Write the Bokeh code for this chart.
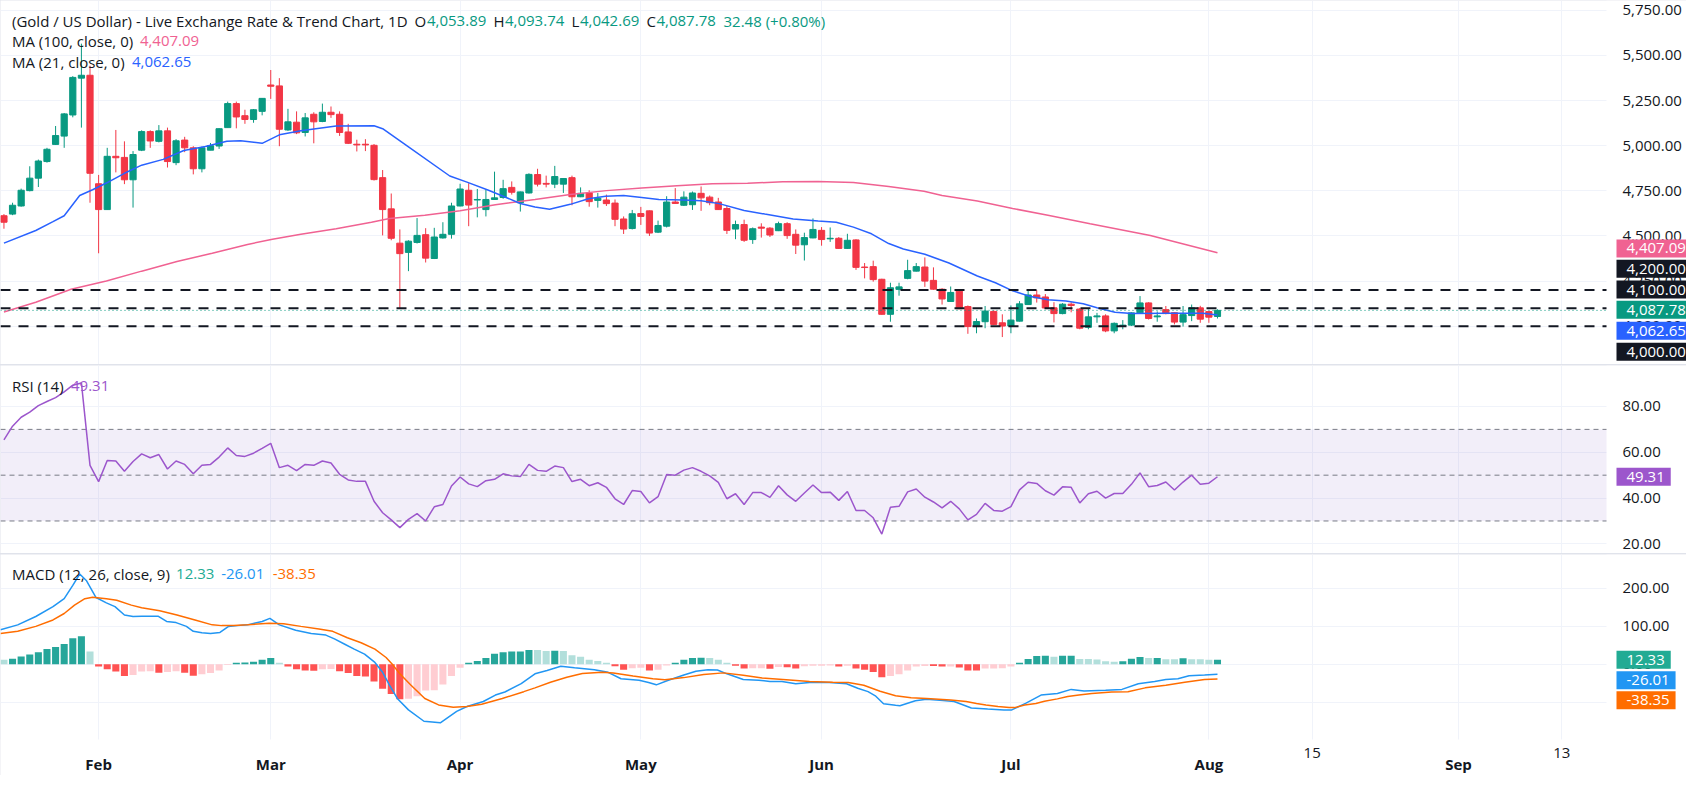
from bokeh.plotting import figure
from bokeh.layouts import column
from bokeh.models import (ColumnDataSource, BoxAnnotation, Label, FixedTicker,
                          NumeralTickFormatter, Range1d, LinearAxis)
from bokeh.embed import file_html
from bokeh.resources import INLINE

# ---------------- data ----------------
opens = [4612, 4621, 4666, 4751, 4820, 4912, 5007, 5053, 5170, 5374,
         5390, 4789, 4646, 4941, 4935, 4811, 4975, 5078, 5024, 5082,
         4906, 5031, 4988, 4872, 4975, 4998, 5100, 5233, 5166, 5145,
         5190, 5336, 5331, 5087, 5130, 5073, 5174, 5134, 5185, 5174,
         5076, 5008, 5008, 5002, 4823, 4650, 4460, 4409, 4464, 4507,
         4375, 4489, 4509, 4666, 4753, 4699, 4646, 4702, 4713, 4769,
         4684, 4738, 4840, 4791, 4787, 4787, 4823, 4717, 4738, 4697,
         4699, 4682, 4594, 4541, 4624, 4639, 4521, 4554, 4688, 4670,
         4673, 4736, 4715, 4688, 4652, 4538, 4563, 4480, 4549, 4543,
         4529, 4568, 4509, 4451, 4489, 4531, 4484, 4487, 4431, 4478,
         4328, 4330, 4260, 4066, 4204, 4265, 4305, 4328, 4254, 4205,
         4137, 4194, 4109, 3998, 4025, 4082, 4019, 4001, 4028, 4120,
         4173, 4162, 4102, 4070, 4122, 4095, 3994, 4052, 4057, 3974,
         4001, 4006, 4074, 4129, 4052, 4092, 4075, 4023, 4059, 4102,
         4081, 4053.89]
highs = [4621, 4684, 4762, 4886, 4923, 4988, 5109, 5181, 5385, 5565,
         5443, 4838, 4988, 5087, 5024, 4970, 5085, 5085, 5114, 5100,
         5036, 5049, 4997, 4995, 5015, 5096, 5244, 5244, 5199, 5203,
         5264, 5419, 5374, 5204, 5190, 5181, 5185, 5233, 5217, 5190,
         5121, 5033, 5036, 5009, 4865, 4735, 4536, 4476, 4599, 4543,
         4545, 4576, 4684, 4789, 4792, 4760, 4756, 4856, 4811, 4802,
         4746, 4847, 4872, 4834, 4888, 4820, 4834, 4769, 4753, 4738,
         4729, 4702, 4608, 4644, 4661, 4641, 4585, 4720, 4765, 4747,
         4746, 4774, 4724, 4711, 4666, 4585, 4590, 4547, 4570, 4549,
         4579, 4576, 4536, 4518, 4597, 4549, 4547, 4494, 4512, 4482,
         4350, 4363, 4263, 4241, 4241, 4368, 4350, 4381, 4326, 4211,
         4220, 4200, 4115, 4043, 4112, 4088, 4066, 4115, 4139, 4196,
         4200, 4178, 4133, 4128, 4133, 4101, 4097, 4074, 4066, 4021,
         4034, 4077, 4167, 4133, 4082, 4112, 4077, 4112, 4120, 4113,
         4084, 4093.74]
lows = [4540, 4615, 4662, 4747, 4771, 4906, 5004, 4988, 5157, 5100,
        4684, 4404, 4646, 4852, 4787, 4657, 4970, 4988, 5018, 4879,
        4892, 4964, 4841, 4852, 4975, 4982, 5100, 5096, 5121, 5127,
        5168, 5259, 4997, 5082, 5064, 5051, 5013, 5130, 5154, 5054,
        5009, 4968, 4970, 4807, 4503, 4476, 4097, 4305, 4458, 4353,
        4372, 4485, 4485, 4664, 4554, 4603, 4608, 4699, 4706, 4729,
        4635, 4735, 4774, 4769, 4765, 4738, 4670, 4715, 4662, 4657,
        4666, 4554, 4511, 4536, 4561, 4500, 4516, 4547, 4679, 4666,
        4644, 4639, 4670, 4644, 4511, 4482, 4467, 4456, 4491, 4494,
        4527, 4484, 4400, 4364, 4487, 4446, 4467, 4428, 4428, 4312,
        4265, 4247, 4064, 4025, 4169, 4260, 4303, 4218, 4202, 4120,
        4135, 4095, 3958, 3961, 3989, 4006, 3940, 3961, 4026, 4119,
        4131, 4095, 4021, 4066, 4077, 3983, 3983, 4019, 3967, 3961,
        3983, 4001, 4070, 4037, 4025, 4066, 4010, 3998, 4028, 4019,
        4019, 4042.69]
closes = [4576, 4670, 4753, 4820, 4915, 4980, 5056, 5176, 5378, 5390,
          4847, 4646, 4941, 4933, 4811, 4951, 5078, 5026, 5082, 4912,
          5027, 4988, 4872, 4988, 5000, 5094, 5233, 5159, 5145, 5199,
          5262, 5329, 5091, 5132, 5071, 5154, 5132, 5185, 5172, 5073,
          5013, 5004, 5004, 4812, 4646, 4487, 4402, 4471, 4503, 4377,
          4494, 4509, 4666, 4760, 4671, 4702, 4702, 4711, 4762, 4742,
          4744, 4841, 4787, 4787, 4829, 4818, 4717, 4736, 4690, 4709,
          4679, 4592, 4538, 4623, 4608, 4516, 4558, 4688, 4680, 4715,
          4738, 4711, 4684, 4646, 4531, 4563, 4476, 4540, 4543, 4505,
          4568, 4502, 4449, 4491, 4536, 4480, 4487, 4431, 4476, 4326,
          4325, 4258, 4066, 4213, 4218, 4308, 4330, 4250, 4205, 4151,
          4187, 4097, 3998, 4026, 4084, 4010, 4001, 4034, 4124, 4173,
          4157, 4101, 4070, 4122, 4115, 3989, 4052, 4057, 3974, 4016,
          4006, 4074, 4129, 4043, 4057, 4070, 4023, 4064, 4102, 4039,
          4050, 4087.78]

ma21_x = [0, 3.7, 5.7, 7, 8.8, 10.3, 11.9, 14, 16, 18.5, 20.9, 23.4, 25.9, 27.5, 30,
          32, 34.5, 38.6, 43, 44, 46.8, 51.8, 53.8, 56.3, 58, 60, 61.7, 63.4, 65.8,
          67.9, 69.9, 72, 74.1, 76.1, 79, 81, 83.1, 86, 88.4, 91.7, 94.6, 96.7, 98.7,
          100.8, 102.8, 104.5, 107, 109.8, 113.1, 115.2, 117.2, 119.3, 121.3, 123.4,
          125.4, 127, 129.1, 131.1, 135.2, 139.3, 141]
ma21_y = [4460, 4530, 4579, 4612, 4724, 4756, 4793, 4847, 4892, 4924, 4973, 4995, 5024, 5027, 5013,
          5060, 5082, 5109, 5110, 5094, 5000, 4832, 4798, 4753, 4720, 4680, 4660, 4648, 4675,
          4706, 4720, 4724, 4713, 4702, 4699, 4695, 4679, 4641, 4621, 4594, 4583, 4576, 4549,
          4512, 4458, 4428, 4399, 4350, 4278, 4241, 4196, 4164, 4146, 4140,
          4124, 4102, 4077, 4070, 4072, 4072, 4062.65]

ma100_x = [0, 3.7, 7.8, 11.9, 16, 20.1, 24.2, 28.3, 31.2, 34.5, 38.6, 42.7, 44.8, 48.9,
           53, 57.1, 61.7, 65.8, 70, 74.1, 78.2, 82.3, 86.4, 90.5, 94.6, 98.7, 102.8,
           106.9, 109, 113.1, 117.2, 121.3, 126.2, 133.2, 141]
ma100_y = [4079, 4133, 4205, 4250, 4305, 4359, 4404, 4453, 4482, 4509, 4540, 4576, 4597, 4615,
           4639, 4673, 4702, 4729, 4751, 4765, 4778, 4789, 4792, 4800, 4802, 4796, 4774,
           4747, 4724, 4693, 4652, 4615, 4567, 4503, 4407.09]

rsi = [65.4, 71.4, 75.3, 77.5, 80.4, 82.2, 83.9, 86.4, 89.3, 90.3,
       54.3, 47.2, 56.4, 56.2, 51.7, 56.0, 59.3, 57.6, 59.0, 52.7,
       56.2, 54.7, 50.6, 54.3, 54.7, 57.9, 61.9, 58.6, 58.2, 59.6,
       61.7, 63.9, 53.3, 54.3, 52.0, 54.7, 54.3, 56.2, 55.3, 50.4,
       47.9, 47.3, 47.3, 38.6, 33.6, 30.5, 27.1, 30.7, 33.2, 30.0,
       36.2, 37.2, 45.3, 49.2, 46.2, 45.0, 47.6, 48.2, 50.6, 49.7,
       49.4, 54.7, 52.1, 51.7, 54.0, 53.3, 47.2, 48.2, 45.4, 46.7,
       44.7, 39.7, 37.2, 43.3, 42.9, 37.9, 40.6, 50.3, 50.0, 52.2,
       53.3, 51.7, 49.7, 46.9, 39.7, 41.9, 37.2, 42.4, 42.4, 40.3,
       45.4, 41.4, 38.6, 42.2, 45.7, 42.4, 42.6, 39.0, 42.9, 34.6,
       34.6, 31.4, 24.3, 36.0, 36.4, 42.7, 44.0, 40.4, 38.3, 35.7,
       38.6, 35.3, 30.5, 32.9, 37.7, 34.6, 34.3, 36.3, 43.6, 46.9,
       46.4, 43.2, 41.3, 44.9, 44.7, 37.9, 41.9, 43.0, 40.0, 42.0,
       42.0, 46.0, 51.0, 45.0, 45.5, 47.0, 43.5, 47.0, 50.0, 46.0,
       46.5, 49.31]

hist = [12, 14.6, 20.7, 25.9, 31.9, 40.4, 45.6, 53.5, 68.9, 74.1,
        33.5, -6, -13, -19, -31, -28.4, -19, -18.5, -22, -20,
        -18, -22, -30, -26, -23, -16, -2, 4, 5, 7,
        12, 17, 4, -6, -13, -16, -17, -13, -12, -18,
        -23, -31, -32, -45, -64, -78, -92, -91, -84, -69,
        -68, -53, -31, -9, 4, 8.5, 17, 28, 32, 33.6,
        34, 38, 37.5, 35.4, 36, 35.4, 24, 20, 12, 8.5,
        4.2, -5, -14, -10, -9, -16, -14, -3, 4, 12,
        17, 17.5, 17, 12, 4, -3.4, -11, -10.5, -10, -11.5,
        -7, -7.5, -11, -5, -3.5, -3.4, -3.3, -6, -3.4, -11,
        -14, -20, -34, -31, -26, -16, -6, -4.3, -4.5, -6,
        -5.8, -8.6, -16, -16.5, -11, -10.8, -10.6, -6, 4, 14,
        22, 22.5, 20, 22.4, 22.6, 14, 13.9, 13, 8, 6.5,
        8, 15, 19, 16.5, 16.8, 13.7, 13.6, 16, 13.7, 13.6,
        12, 12.33]

macd_x = [-0.4, 1.6, 3.7, 5.7, 7, 8, 8.8, 9.6, 10.7, 11.9, 12.9, 14, 15, 16, 17.9, 18.9,
          20, 21.2, 22, 23, 24, 25.1, 26.1, 27.1, 28.3, 30, 30.9, 32, 33.9, 35.7, 37.4,
          38.4, 39.6, 40.7, 41.9, 43.1, 44, 44.8, 45.7, 47, 48.8, 50.7, 52.6, 53.8, 55.7,
          57.1, 58.2, 60.1, 61.7, 63.1, 64.7, 66.3, 68.6, 70.2, 71.7, 73.8, 74.9, 75.8,
          77.2, 79, 80.4, 81.8, 82.9, 84, 85.9, 87.7, 89, 90.4, 92, 93.6, 95.9, 97.9,
          99.2, 100.4, 101.3, 102.2, 103.6, 104.1, 105.9, 107.2, 109.1, 110.4, 112.4,
          114.3, 116.2, 117.1, 118.7, 120.5, 122.4, 124, 125.5, 128, 129.9, 131.8,
          133.7, 135, 136.4, 137.7, 139.5, 141]
macd_y = [91, 104, 126, 152, 173, 208, 238, 220, 176, 162, 152, 130, 126, 127, 127, 113,
          110, 100, 87, 83, 81, 84, 100, 102, 104, 113, 121, 104, 90, 81, 77,
          67, 53, 40, 27, 5, -21, -55, -90, -120, -150, -154, -124, -111, -98,
          -81, -73, -51, -25, -16, -5, -9, -14, -21, -38, -42, -48, -54,
          -42, -28, -18, -14, -15, -25, -40, -42, -45, -45, -51, -48, -48, -51,
          -63, -72, -84, -104, -108, -109, -96, -92, -95, -98, -115,
          -118, -120, -120, -103, -81, -77, -66, -70, -68, -66, -51,
          -45, -40, -38, -30, -28, -26.01]

signal_x = [-0.4, 1.6, 3.7, 5.7, 7, 8.2, 9.4, 10.3, 11.9, 13.1, 14.8, 16, 18.1, 20.1,
            22.2, 24.2, 25.3, 26.7, 28.3, 30.8, 32.5, 34.5, 36.6, 38.2, 39.9, 41.5,
            43.1, 44.4, 45.2, 46, 47.3, 48.9, 50.5, 52.2, 53.8, 55.5, 57.9, 60.4,
            61.7, 63.5, 65.4, 67.2, 69.5, 70.8, 73.1, 75.4, 76.8, 79, 81.3, 83.6,
            85.9, 88.1, 90.9, 93.6, 96.3, 98.1, 99.9, 101.8, 103.6, 105.4, 107.2,
            110, 111.8, 113, 114.1, 115.5, 116.8, 117.4, 118.6, 119.9, 120.9, 122.4,
            123.6, 124.9, 126.4, 128.7, 130.6, 132.6, 135, 137.2, 139.5, 141]
signal_y = [81, 87, 100, 117, 134, 156, 173, 177, 173, 169, 156, 149, 141, 130,
            117, 104, 102, 102, 104, 108.5, 107, 100, 93, 87, 70, 57,
            40, 18, -2, -25, -55, -90, -107, -113, -111, -105, -90, -72,
            -62, -47, -34, -24, -21, -23, -31, -38, -40.5, -35, -27, -22.5,
            -29, -36, -40.5, -45, -47, -48, -55, -71, -83, -88, -90,
            -94, -98, -103, -107, -111, -114, -114, -107, -103, -97, -91,
            -85, -81, -77, -73, -72, -62, -55, -47, -40, -38.35]

levels = [4200, 4100, 4000]
last_price = 4087.78
month_ticks = [11, 31, 53, 74, 95, 117, 140, 169]
month_labels = ["Feb", "Mar", "Apr", "May", "Jun", "Jul", "Aug", "Sep"]
day_ticks = [152, 181]
day_labels = ["15", "13"]
price_ticks = [4000, 4250, 4500, 4750, 5000, 5250, 5500, 5750]
rsi_ticks = [20, 40, 60, 80]
macd_ticks = [-100, 0, 100, 200]

# ---------------- styling / layout ----------------
FONT = "Open Sans"
FS = "15px"
TXT = "#131722"
UP, DOWN = "#089981", "#F23645"
GRID = "#F0F3FA"
W = 1686                 # full canvas width (frame covers the price-scale area too)
PXB = 1606 / 186.6       # pixels per bar
X0 = -0.4
XEDGE = 186.2            # right edge of the chart area (price scale starts here)
xr = Range1d(X0, X0 + W / PXB)


def base(height, yr, ticks, fmt):
    p = figure(frame_width=W, frame_height=height, x_range=xr, y_range=yr,
               toolbar_location=None, output_backend="svg",
               x_axis_location=None, y_axis_location=None,
               min_border=0, outline_line_color=None,
               background_fill_color="white", border_fill_color="white")
    p.ygrid.ticker = FixedTicker(ticks=ticks)
    p.ygrid.grid_line_color = GRID
    p.xgrid.ticker = FixedTicker(ticks=month_ticks + day_ticks)
    p.xgrid.grid_line_color = GRID
    # blank the price-scale strip (grid lines stop at the chart edge)
    p.add_layout(BoxAnnotation(left=XEDGE, fill_color="white", fill_alpha=1,
                               line_color=None, level="underlay"))
    ax = LinearAxis(fixed_location=XEDGE, ticker=FixedTicker(ticks=ticks),
                    formatter=NumeralTickFormatter(format=fmt),
                    axis_line_color=None, major_tick_line_color=None,
                    minor_tick_line_color=None, major_label_standoff=10,
                    major_label_text_font=FONT, major_label_text_font_size=FS,
                    major_label_text_color=TXT)
    p.add_layout(ax, "right")
    return p


def txt(p, px, y, text, color=TXT):
    p.add_layout(Label(x=X0, x_offset=px, y=y, text=text, text_color=color,
                       text_font=FONT, text_font_size=FS, text_baseline="middle",
                       text_align="left"))


def badge(p, y, text, color):
    p.add_layout(Label(x=XEDGE, y=y, x_offset=10, text=text, text_color="white",
                       text_font=FONT, text_font_size=FS, text_baseline="middle",
                       text_align="left", background_fill_color=color,
                       background_fill_alpha=1.0,
                       padding=dict(left=10, right=6, top=4, bottom=4)))


def hline(p, y, color, width, dash):
    p.segment(x0=X0, x1=XEDGE, y0=y, y1=y, line_color=color, line_width=width,
              line_dash=dash)


idx = list(range(len(closes)))

# ---------------- price panel ----------------
p1 = base(364, Range1d(3788, 5804), price_ticks, "0,0.00")
colors = [UP if c >= o else DOWN for o, c in zip(opens, closes)]
src = ColumnDataSource(dict(x=idx, high=highs, low=lows,
                            top=[max(o, c) for o, c in zip(opens, closes)],
                            bottom=[min(o, c) for o, c in zip(opens, closes)],
                            color=colors))
p1.segment(x0="x", y0="high", x1="x", y1="low", color="color", line_width=1, source=src)
p1.vbar(x="x", width=0.72, top="top", bottom="bottom", fill_color="color",
        line_color="color", line_width=1, source=src)
p1.line(ma100_x, ma100_y, line_color="#F06292", line_width=1.5)
p1.line(ma21_x, ma21_y, line_color="#2962FF", line_width=1.5)
for lv in levels:
    hline(p1, lv, TXT, 2, "10 8")
hline(p1, last_price, UP, 1, "1 3")

TY = 5692
txt(p1, 11.5, TY, "(Gold / US Dollar) - Live Exchange Rate & Trend Chart, 1D")
head = [("O", TXT, 414), ("4,053.89", UP, 426.5), ("H", TXT, 493), ("4,093.74", UP, 504.5),
        ("L", TXT, 571), ("4,042.69", UP, 579.5), ("C", TXT, 646), ("4,087.78", UP, 656),
        ("32.48 (+0.80%)", UP, 723)]
for t, c, px in head:
    txt(p1, px, TY, t, c)
txt(p1, 11.5, 5577, "MA (100, close, 0)")
txt(p1, 139.4, 5577, "4,407.09", "#F06292")
txt(p1, 11.5, 5464, "MA (21, close, 0)")
txt(p1, 131.5, 5464, "4,062.65", "#2962FF")

badge(p1, 4431, "4,407.09", "#F06292")
badge(p1, 4319, "4,200.00", TXT)
badge(p1, 4203, "4,100.00", TXT)
badge(p1, 4091, "4,087.78", UP)
badge(p1, 3975, "4,062.65", "#2962FF")
badge(p1, 3858, "4,000.00", TXT)

# ---------------- RSI panel ----------------
RSI_C = "#9C56CC"
p2 = base(188, Range1d(15.8, 97.9), rsi_ticks, "0.00")
p2.add_layout(BoxAnnotation(bottom=30, top=70, right=XEDGE, fill_color="#7E57C2",
                            fill_alpha=0.1, line_color=None, level="underlay"))
for lv in [70, 50, 30]:
    hline(p2, lv, "#787B86", 1, "5 4")
p2.line(idx, rsi, line_color=RSI_C, line_width=1.5)
txt(p2, 11.5, 88.9, "RSI (14)")
txt(p2, 70.5, 88.9, "49.31", RSI_C)
badge(p2, 49.31, "49.31", RSI_C)

# ---------------- MACD panel (its frame also holds the time scale strip) ----------------
MBOT = -198.0
p3 = base(221, Range1d(-292.9, 289.4), macd_ticks, "0.00")
p3.add_layout(BoxAnnotation(top=MBOT, fill_color="white", fill_alpha=1,
                            line_color=None, level="underlay"))
hcol = []
for i, h in enumerate(hist):
    rising = i > 0 and h > hist[i - 1]
    if h >= 0:
        hcol.append("#26A69A" if rising else "#B2DFDB")
    else:
        hcol.append("#FFCDD2" if rising else "#FF5252")
p3.vbar(x=idx, top=hist, bottom=0, width=0.82, fill_color=hcol, line_color=None)
p3.line(macd_x, macd_y, line_color="#2196F3", line_width=1.5)
p3.line(signal_x, signal_y, line_color="#FF6D00", line_width=1.5)
MY = 237.7
txt(p3, 11.5, MY, "MACD (12, 26, close, 9)")
txt(p3, 175.6, MY, "12.33", "#22AB94")
txt(p3, 220.7, MY, "-26.01", "#2196F3")
txt(p3, 272.2, MY, "-38.35", "#FF6D00")
badge(p3, 12.4, "12.33", "#22AB94")
badge(p3, -41.9, "-26.01", "#2196F3")
badge(p3, -94.8, "-38.35", "#FF6D00")

xax = LinearAxis(fixed_location=MBOT, ticker=FixedTicker(ticks=month_ticks + day_ticks),
                 major_label_overrides={**{t: l for t, l in zip(month_ticks, month_labels)},
                                        **{t: "" for t in day_ticks}},
                 axis_line_color=None, major_tick_line_color=None,
                 minor_tick_line_color=None, major_label_standoff=9,
                 major_label_text_font=FONT, major_label_text_font_size=FS,
                 major_label_text_font_style="bold", major_label_text_color=TXT)
p3.add_layout(xax, "below")
UPP = (289.4 + 292.9) / 221      # MACD units per pixel
for t, l in zip(day_ticks, day_labels):
    p3.add_layout(Label(x=t, y=MBOT - 9 * UPP, text=l, text_color=TXT, text_font=FONT,
                        text_font_size=FS, text_baseline="top", text_align="center"))

layout = column(p1, p2, p3, spacing=1, styles={"background-color": "#E0E3EB"})
open("out.html", "w").write(file_html(layout, INLINE))
